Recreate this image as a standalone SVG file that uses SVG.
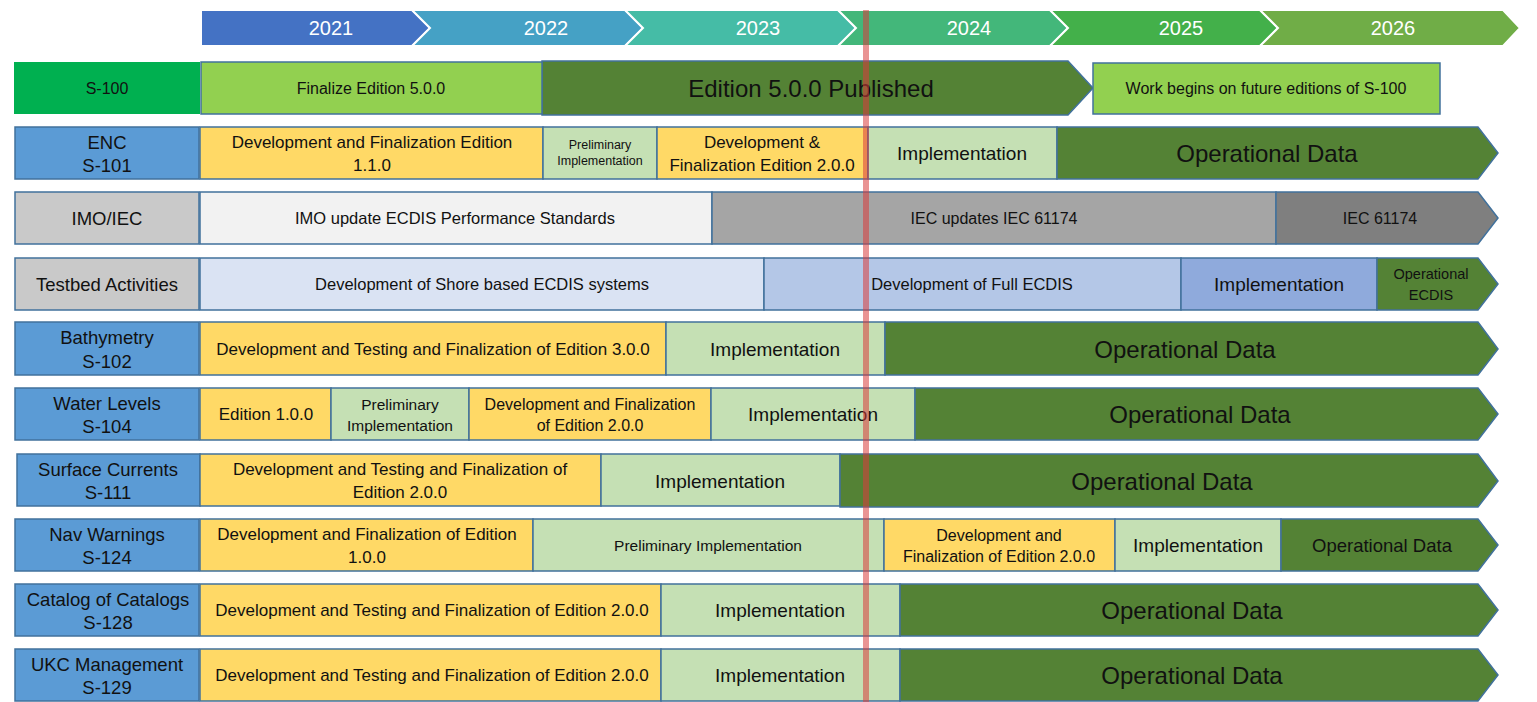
<svg xmlns="http://www.w3.org/2000/svg" width="1537" height="702" viewBox="0 0 1537 702">
<style>
text{font-family:"Liberation Sans",Arial,sans-serif;text-anchor:middle;dominant-baseline:central;fill:#111}
.yr{fill:#fff;font-size:20px}
.b{stroke:#41719C;stroke-width:1.5}
.lbl{fill:#5B9BD5}
.gl{fill:#C9C9C9}
.yel{fill:#FFD966}
.grn{fill:#C5E0B4}
.op{fill:#548235}
.lime{fill:#92D050}
.l{font-size:18.5px}
.d{font-size:17px}
.s{font-size:16px}
.im{font-size:19px}
.od{font-size:24px}
</style>
<rect width="1537" height="702" fill="#fff"/>
<g id="years" stroke="#fff" stroke-width="2">
<g id="y2021"><polygon points="201,10 412,10 430,28 412,46 201,46" fill="#4472C4"/><text x="331" y="28" class="yr" stroke="none">2021</text></g>
<g id="y2022"><polygon points="412,10 625,10 643,28 625,46 412,46 430,28" fill="#45A1C5"/><text x="546" y="28" class="yr" stroke="none">2022</text></g>
<g id="y2023"><polygon points="625,10 838,10 856,28 838,46 625,46 643,28" fill="#45BCA6"/><text x="758" y="28" class="yr" stroke="none">2023</text></g>
<g id="y2024"><polygon points="838,10 1050,10 1068,28 1050,46 838,46 856,28" fill="#43B77A"/><text x="969" y="28" class="yr" stroke="none">2024</text></g>
<g id="y2025"><polygon points="1050,10 1260,10 1278,28 1260,46 1050,46 1068,28" fill="#43B04A"/><text x="1181" y="28" class="yr" stroke="none">2025</text></g>
<g id="y2026"><polygon points="1260,10 1503,10 1520,28 1503,46 1260,46 1278,28" fill="#70AD47"/><text x="1393" y="28" class="yr" stroke="none">2026</text></g>
</g>

<g id="row-s100">
<rect x="14" y="62" width="186" height="52" fill="#00B050"/>
<text x="107" y="88" class="s">S-100</text>
<polygon class="b op" points="542,61 1068,61 1093,88 1068,115 542,115"/>
<text x="811" y="88" class="od">Edition 5.0.0 Published</text>
<rect class="b lime" x="201" y="62" width="341" height="52"/>
<text x="371" y="88" class="s">Finalize Edition 5.0.0</text>
<rect class="b lime" x="1093" y="63" width="347" height="51"/>
<text x="1266" y="88" class="s">Work begins on future editions of S-100</text>
</g>

<g id="row-enc">
<rect class="b lbl" x="15" y="127" width="184" height="52"/>
<text x="107" y="142" class="l">ENC</text><text x="107" y="165" class="l">S-101</text>
<rect class="b yel" x="200" y="127" width="343" height="52"/>
<text x="372" y="142" class="d">Development and Finalization Edition</text><text x="372" y="165" class="d">1.1.0</text>
<rect class="b grn" x="543" y="127" width="114" height="52"/>
<text x="600" y="145" style="font-size:12.5px">Preliminary</text><text x="600" y="161" style="font-size:12.5px">Implementation</text>
<rect class="b yel" x="657" y="127" width="211" height="52"/>
<text x="762" y="142" class="d">Development &amp;</text><text x="762" y="165" class="d">Finalization Edition 2.0.0</text>
<rect class="b grn" x="868" y="127" width="189" height="52"/>
<text x="962" y="153" class="im">Implementation</text>
<polygon class="b op" points="1057,127 1478,127 1498,153 1478,179 1057,179"/>
<text x="1267" y="153" class="od">Operational Data</text>
</g>

<g id="row-imo">
<rect class="b gl" x="15" y="192" width="184" height="52"/>
<text x="107" y="218" class="l">IMO/IEC</text>
<rect class="b" x="200" y="192" width="512" height="52" fill="#F2F2F2"/>
<text x="455" y="218" style="font-size:16.5px">IMO update ECDIS Performance Standards</text>
<rect class="b" x="712" y="192" width="564" height="52" fill="#A5A5A5"/>
<text x="994" y="218" class="s">IEC updates IEC 61174</text>
<polygon class="b" points="1276,192 1478,192 1498,218 1478,244 1276,244" fill="#7F7F7F"/>
<text x="1380" y="218" class="s">IEC 61174</text>
</g>

<g id="row-testbed">
<rect class="b gl" x="15" y="258" width="184" height="52"/>
<text x="107" y="284" class="l">Testbed Activities</text>
<rect class="b" x="200" y="258" width="564" height="52" fill="#DAE3F3"/>
<text x="482" y="284" style="font-size:16.5px">Development of Shore based ECDIS systems</text>
<rect class="b" x="764" y="258" width="417" height="52" fill="#B4C7E7"/>
<text x="972" y="284" style="font-size:16.5px">Development of Full ECDIS</text>
<rect class="b" x="1181" y="258" width="196" height="52" fill="#8FAADC"/>
<text x="1279" y="284" class="im">Implementation</text>
<polygon class="b op" points="1377,258 1478,258 1498,284 1478,310 1377,310"/>
<text x="1431" y="274" style="font-size:14.5px">Operational</text><text x="1431" y="295" style="font-size:14.5px">ECDIS</text>
</g>

<g id="row-s102">
<rect class="b lbl" x="15" y="322" width="184" height="53"/>
<text x="107" y="337" class="l">Bathymetry</text><text x="107" y="361" class="l">S-102</text>
<rect class="b yel" x="200" y="322" width="466" height="53"/>
<text x="433" y="349" class="d">Development and Testing and Finalization of Edition 3.0.0</text>
<rect class="b grn" x="666" y="322" width="219" height="53"/>
<text x="775" y="349" class="im">Implementation</text>
<polygon class="b op" points="885,322 1478,322 1498,349 1478,375 885,375"/>
<text x="1185" y="349" class="od">Operational Data</text>
</g>

<g id="row-s104">
<rect class="b lbl" x="15" y="388" width="184" height="52"/>
<text x="107" y="403" class="l">Water Levels</text><text x="107" y="426" class="l">S-104</text>
<rect class="b yel" x="200" y="388" width="131" height="52"/>
<text x="266" y="414" class="d">Edition 1.0.0</text>
<rect class="b grn" x="331" y="388" width="138" height="52"/>
<text x="400" y="404" style="font-size:15.5px">Preliminary</text><text x="400" y="425" style="font-size:15.5px">Implementation</text>
<rect class="b yel" x="469" y="388" width="242" height="52"/>
<text x="590" y="404" class="s">Development and Finalization</text><text x="590" y="425" class="s">of Edition 2.0.0</text>
<rect class="b grn" x="711" y="388" width="204" height="52"/>
<text x="813" y="414" class="im">Implementation</text>
<polygon class="b op" points="915,388 1478,388 1498,414 1478,440 915,440"/>
<text x="1200" y="414" class="od">Operational Data</text>
</g>

<g id="row-s111">
<rect class="b lbl" x="17" y="454" width="183" height="52"/>
<text x="108" y="469" class="l">Surface Currents</text><text x="108" y="492" class="l">S-111</text>
<rect class="b yel" x="200" y="454" width="401" height="52"/>
<text x="400" y="469" class="d">Development and Testing and Finalization of</text><text x="400" y="492" class="d">Edition 2.0.0</text>
<rect class="b grn" x="601" y="454" width="239" height="52"/>
<text x="720" y="481" class="im">Implementation</text>
<polygon class="b op" points="840,454 1478,454 1498,481 1478,507 840,507"/>
<text x="1162" y="481" class="od">Operational Data</text>
</g>

<g id="row-s124">
<rect class="b lbl" x="15" y="519" width="184" height="52"/>
<text x="107" y="534" class="l">Nav Warnings</text><text x="107" y="557" class="l">S-124</text>
<rect class="b yel" x="200" y="519" width="333" height="52"/>
<text x="367" y="534" class="d">Development and Finalization of Edition</text><text x="367" y="557" class="d">1.0.0</text>
<rect class="b grn" x="533" y="519" width="351" height="52"/>
<text x="708" y="545" style="font-size:15.5px">Preliminary Implementation</text>
<rect class="b yel" x="884" y="519" width="231" height="52"/>
<text x="999" y="535" class="s">Development and</text><text x="999" y="556" class="s">Finalization of Edition 2.0.0</text>
<rect class="b grn" x="1115" y="519" width="166" height="52"/>
<text x="1198" y="545" class="im">Implementation</text>
<polygon class="b op" points="1281,519 1478,519 1498,545 1478,571 1281,571"/>
<text x="1382" y="545" style="font-size:18.5px">Operational Data</text>
</g>

<g id="row-s128">
<rect class="b lbl" x="15" y="584" width="184" height="52"/>
<text x="108" y="599" class="l">Catalog of Catalogs</text><text x="108" y="622" class="l">S-128</text>
<rect class="b yel" x="200" y="584" width="461" height="52"/>
<text x="432" y="610" class="d">Development and Testing and Finalization of Edition 2.0.0</text>
<rect class="b grn" x="661" y="584" width="239" height="52"/>
<text x="780" y="610" class="im">Implementation</text>
<polygon class="b op" points="900,584 1478,584 1498,610 1478,636 900,636"/>
<text x="1192" y="610" class="od">Operational Data</text>
</g>

<g id="row-s129">
<rect class="b lbl" x="15" y="649" width="184" height="52"/>
<text x="107" y="664" class="l">UKC Management</text><text x="107" y="687" class="l">S-129</text>
<rect class="b yel" x="200" y="649" width="461" height="52"/>
<text x="432" y="675" class="d">Development and Testing and Finalization of Edition 2.0.0</text>
<rect class="b grn" x="661" y="649" width="239" height="52"/>
<text x="780" y="675" class="im">Implementation</text>
<polygon class="b op" points="900,649 1478,649 1498,675 1478,701 900,701"/>
<text x="1192" y="675" class="od">Operational Data</text>
</g>

<g id="connectors"></g>

<g id="today-line">
<rect x="863" y="10" width="6" height="692" fill="#D83C3C" opacity="0.55"/>
</g>
</svg>
